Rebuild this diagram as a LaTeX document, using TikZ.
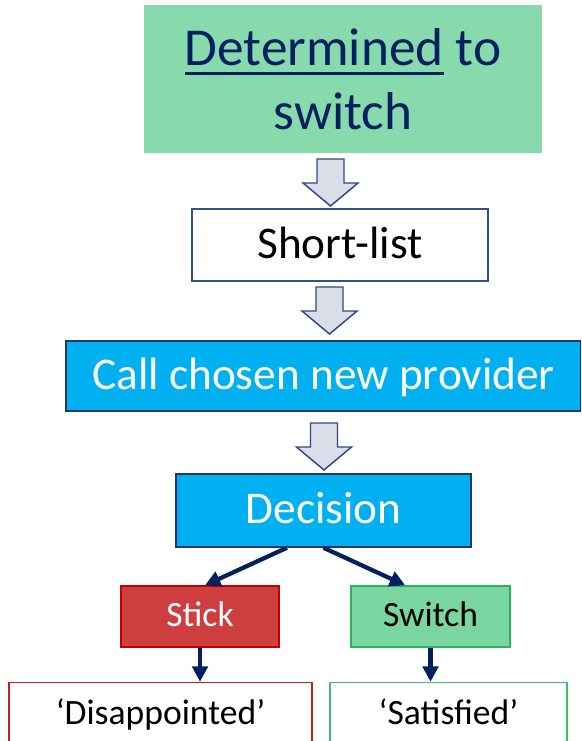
\documentclass[tikz,border=0pt]{standalone}
\usepackage{fontspec}
\setmainfont{Carlito}
\usetikzlibrary{arrows.meta}
\definecolor{navy}{HTML}{002060}
\definecolor{topgreen}{RGB}{136,217,172}
\definecolor{skyfill}{HTML}{00B0F0}
\definecolor{boxline}{HTML}{203864}
\definecolor{listline}{HTML}{2F528F}
\definecolor{arrowfill}{HTML}{D9DEE8}
\definecolor{arrowline}{HTML}{2E4A7D}
\definecolor{stickfill}{RGB}{207,62,62}
\definecolor{stickline}{HTML}{C00000}
\definecolor{switchfill}{RGB}{122,214,160}
\definecolor{switchline}{RGB}{45,179,90}
\definecolor{satline}{RGB}{60,192,112}
\definecolor{disline}{RGB}{200,30,30}
% underline drawn as a rule beneath the word
\newcommand\dtunder[1]{\setbox0\hbox{#1}\rlap{\color{navy}\rule[-7pt]{\wd0}{2.2pt}}\box0\relax}
\begin{document}
\begin{tikzpicture}[x=0.75pt,y=-0.75pt,
  box/.style={rectangle, inner sep=0pt, align=center, line width=1.1pt},
  bigtext/.style={text height=27.2pt, text depth=7.5pt, font=\fontsize{34}{40}\selectfont},
  smalltext/.style={text height=21.4pt, text depth=5.9pt, font=\fontsize{26.7}{32}\selectfont},
  pics/blockarrow/.style={code={
    \draw[fill=arrowfill, draw=arrowline, line width=1.1pt, line join=miter]
      (-13.5,0) -- (13.5,0) -- (13.5,24) -- (27.5,24) -- (0,47)
      -- (-27.5,24) -- (-13.5,24) -- cycle;}},
  link/.style={draw=navy, line width=3.2pt,
    -{Triangle[length=11.5pt,width=11.5pt]}}]
\useasboundingbox (0,0) rectangle (581,741);
\clip (0,0) rectangle (581,741);

% main flow
\node[box, fill=topgreen, minimum width=298.5pt, minimum height=111pt,
  text=navy, font=\fontsize{40}{48}\selectfont] (top) at (343,79)
  {\dtunder{Determined} to\\switch};
\node[box, draw=listline, fill=white, minimum width=222pt, minimum height=54pt,
  bigtext] (list) at (340,245) {Short-list};
\node[box, draw=boxline, fill=skyfill, minimum width=386pt, minimum height=52.5pt,
  bigtext, text=white] (call) at (323.5,376) {Call chosen new provider};
\node[box, draw=boxline, fill=skyfill, minimum width=221.25pt, minimum height=54.75pt,
  bigtext, text=white] (dec) at (323.5,510.5) {Decision};

% outcomes
\node[box, draw=stickline, fill=stickfill, minimum width=118.5pt, minimum height=45.75pt,
  smalltext, text=white] (stick) at (200,616.5) {Stick};
\node[box, draw=switchline, fill=switchfill, minimum width=119.25pt, minimum height=45.75pt,
  smalltext, text=black] (switch) at (430.5,616.5) {Switch};
\node[box, draw=disline, fill=white, minimum width=227.25pt, minimum height=48pt,
  smalltext] (dis) at (160.5,714.5) {‘Disappointed’};
\node[box, draw=satline, fill=white, minimum width=177.75pt, minimum height=48pt,
  smalltext] (sat) at (448.5,714.5) {‘Satisfied’};

% hollow arrows between the steps
\pic at (330.5,159) {blockarrow};
\pic at (329.5,287) {blockarrow};
\pic at (324,423) {blockarrow};

% decision branches
\draw[link] ([xshift=-27.4pt]dec.south) -- ([xshift=3.75pt]stick.north);
\draw[link] (dec.south) -- ([xshift=-19pt]switch.north);
\draw[link] (stick.south) -- (stick.south |- dis.north);
\draw[link] (switch.south) -- (switch.south |- sat.north);
\end{tikzpicture}
\end{document}
